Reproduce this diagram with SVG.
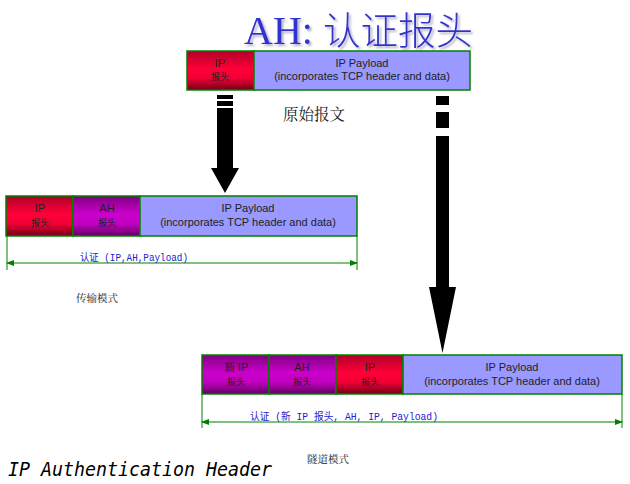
<svg xmlns="http://www.w3.org/2000/svg" width="630" height="484" viewBox="0 0 630 484">
<defs>
<linearGradient id="gRed" x1="0" y1="0" x2="0" y2="1">
<stop offset="0" stop-color="#b00028"/>
<stop offset="0.45" stop-color="#ff0038"/>
<stop offset="0.7" stop-color="#f00035"/>
<stop offset="1" stop-color="#700018"/>
</linearGradient>
<linearGradient id="gPur" x1="0" y1="0" x2="0" y2="1">
<stop offset="0" stop-color="#800080"/>
<stop offset="0.45" stop-color="#cc00cc"/>
<stop offset="0.7" stop-color="#c000c0"/>
<stop offset="1" stop-color="#600060"/>
</linearGradient>
<marker id="ah" markerWidth="8" markerHeight="6" refX="7" refY="3" orient="auto-start-reverse" markerUnits="userSpaceOnUse">
<path d="M0,0 L8,3 L0,6 z" fill="#008000"/>
</marker>
<filter id="sh" x="-10%" y="-30%" width="130%" height="170%">
<feDropShadow dx="2" dy="2" stdDeviation="1" flood-color="#9999bb" flood-opacity="0.8"/>
</filter>
</defs>
<style>
.box{stroke:#008000;stroke-width:1.5}
.red{fill:url(#gRed)}
.pur{fill:url(#gPur)}
.pay{fill:#9999ff}
.t{font-family:"Liberation Sans",Arial,sans-serif;font-size:11px;fill:#222;text-anchor:middle}
.cj{font-family:"Noto Sans CJK SC",sans-serif;font-size:9px;fill:#222;text-anchor:middle}
.auth{font-family:"Liberation Mono","Noto Sans CJK SC",monospace;font-size:10px;fill:#2222cc}
.dim{stroke:#008000;stroke-width:1;fill:none}
.cap{font-family:"Noto Serif CJK SC","Noto Sans CJK SC",serif;fill:#222}
</style>
<text x="244" y="44" font-family="'Liberation Serif','Noto Sans CJK SC',serif" font-size="40" fill="#3333cc" filter="url(#sh)">AH: <tspan font-family="'Noto Sans CJK SC',sans-serif" font-size="37.5" font-weight="300">认证报头</tspan></text>

<g id="orig">
<rect class="box red" x="187" y="51" width="67" height="39"/>
<rect class="box pay" x="254" y="51" width="216" height="39"/>
<text class="t" x="220" y="67">IP</text>
<text class="cj" x="220" y="80">报头</text>
<text class="t" x="362" y="67">IP Payload</text>
<text class="t" x="362" y="80">(incorporates TCP header and data)</text>
</g>
<text class="cap" x="283" y="120" font-size="15.5">原始报文</text>

<g id="transport">
<rect class="box red" x="6" y="196" width="67" height="40"/>
<rect class="box pur" x="73" y="196" width="67" height="40"/>
<rect class="box pay" x="140" y="196" width="217" height="40"/>
<text class="t" x="40" y="212">IP</text>
<text class="cj" x="40" y="226">报头</text>
<text class="t" x="107" y="212">AH</text>
<text class="cj" x="107" y="226">报头</text>
<text class="t" x="248" y="212">IP Payload</text>
<text class="t" x="248" y="226">(incorporates TCP header and data)</text>
</g>
<text class="cap" x="76" y="302" font-size="10.5">传输模式</text>

<g id="tunnel">
<rect class="box pur" x="202" y="355" width="67" height="39"/>
<rect class="box pur" x="269" y="355" width="67" height="39"/>
<rect class="box red" x="336" y="355" width="67" height="39"/>
<rect class="box pay" x="403" y="355" width="219" height="39"/>
<text class="t" x="236" y="371">新 IP</text>
<text class="cj" x="236" y="385">报头</text>
<text class="t" x="302" y="371">AH</text>
<text class="cj" x="302" y="385">报头</text>
<text class="t" x="370" y="371">IP</text>
<text class="cj" x="370" y="385">报头</text>
<text class="t" x="512" y="371">IP Payload</text>
<text class="t" x="512" y="385">(incorporates TCP header and data)</text>
</g>
<text class="cap" x="307" y="463" font-size="10.5">隧道模式</text>

<g id="connectors">
<rect x="217" y="95" width="16" height="4" fill="#000"/>
<rect x="217" y="101" width="16" height="5" fill="#000"/>
<path d="M217,108 H233 V168 H239 L225,193 L211,168 H217 Z" fill="#000"/>
<rect x="436" y="96" width="13" height="9" fill="#000"/>
<rect x="436" y="112" width="13" height="16" fill="#000"/>
<path d="M436,136 H449 V287 H456 L442.5,353 L429,287 H436 Z" fill="#000"/>

<path class="dim" d="M7,236 V270 M357,236 V270"/>
<line class="dim" x1="7" y1="263" x2="357" y2="263" marker-start="url(#ah)" marker-end="url(#ah)"/>
<path class="dim" d="M202,394 V428 M622,394 V428"/>
<line class="dim" x1="202" y1="422" x2="622" y2="422" marker-start="url(#ah)" marker-end="url(#ah)"/>
</g>
<text class="auth" x="80" y="261" textLength="108" lengthAdjust="spacingAndGlyphs">认证 (IP,AH,Payload)</text>
<text class="auth" x="250" y="420" textLength="188" lengthAdjust="spacingAndGlyphs">认证 (新 IP 报头, AH, IP, Payload)</text>

<text x="8" y="476" font-family="'DejaVu Sans Mono','Liberation Mono',monospace" font-style="italic" font-size="19" fill="#000" textLength="264" lengthAdjust="spacingAndGlyphs">IP Authentication Header</text>
</svg>
